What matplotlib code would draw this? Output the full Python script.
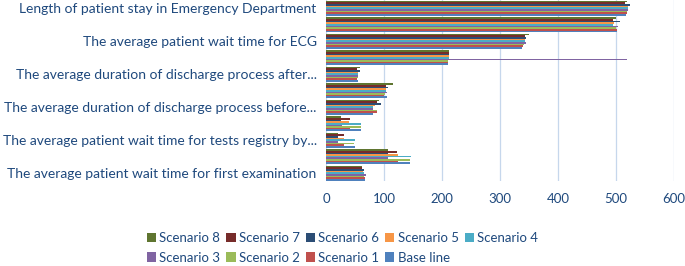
import numpy as np
import matplotlib
matplotlib.use("Agg")
import matplotlib.pyplot as plt

plt.rcParams['font.family'] = ['Lato', 'DejaVu Sans']

# Categories from bottom to top (only every other one has a visible label in the chart)
categories = [
    "The average patient wait time for first examination",
    "The average patient wait time for laboratory tests",
    "The average patient wait time for tests registry by...",
    "The average patient wait time for tests results",
    "The average duration of discharge process before...",
    "The average patient wait time for consultation",
    "The average duration of discharge process after...",
    "The average patient wait time for imaging",
    "The average patient wait time for ECG",
    "The average patient wait time for admission",
    "Length of patient stay in Emergency Department",
]

series_names = ["Base line", "Scenario 1", "Scenario 2", "Scenario 3", "Scenario 4",
                "Scenario 5", "Scenario 6", "Scenario 7", "Scenario 8"]

base_line = [67, 145, 49, 59, 80, 104, 55, 210, 338, 501, 517]
scenario_1 = [66, 123, 31, 40, 88, 100, 53, 209, 340, 501, 518]
scenario_2 = [65, 144, 48, 59, 88, 101, 54, 210, 341, 499, 518]
scenario_3 = [69, 107, 20, 26, 81, 105, 55, 519, 344, 504, 521]
scenario_4 = [64, 146, 49, 59, 81, 102, 55, 211, 342, 494, 520]
scenario_5 = [63, 123, 31, 39, 84, 102, 54, 211, 343, 497, 521]
scenario_6 = [64, 107, 20, 25, 94, 107, 58, 212, 345, 507, 524]
scenario_7 = [62, 122, 31, 40, 87, 103, 53, 212, 342, 494, 515]
scenario_8 = [62, 107, 20, 25, 91, 114, 58, 212, 349, 500, 518]

series = [base_line, scenario_1, scenario_2, scenario_3, scenario_4,
          scenario_5, scenario_6, scenario_7, scenario_8]

colors = ["#4F81BD", "#C0504D", "#9BBB59", "#8064A2", "#4BACC6",
          "#F79646", "#2C4D75", "#772C2A", "#5F7530"]

text_color = "#1F497D"

fig = plt.figure(figsize=(6.85, 2.66), dpi=100)
ax = fig.add_axes([0.4766, 0.318, 0.5074, 0.682])

y = np.arange(len(categories))
bar_h = 0.1
bars = []
for j, (vals, name, col) in enumerate(zip(series, series_names, colors)):
    b = ax.barh(y - 0.45 + (j + 0.5) * bar_h, vals, height=bar_h,
                color=col, label=name, zorder=3)
    bars.append(b)

ax.set_xlim(0, 600)
ax.set_ylim(-0.5, len(categories) - 0.5)
ax.set_xticks(range(0, 601, 100))
ax.set_yticks(y[::2])
ax.set_yticklabels(categories[::2])
ax.tick_params(axis='both', length=0, labelcolor=text_color)
ax.tick_params(axis='y', pad=7, labelsize=10)
ax.tick_params(axis='x', pad=8, labelsize=9.5)
ax.grid(axis='x', color='#C6D7EC', linewidth=0.9, zorder=0)
for s in ax.spines.values():
    s.set_visible(False)

# legend laid out row-wise: Scenario 8..4 on top, Scenario 3..Base line below
order = [8, 3, 7, 2, 6, 1, 5, 0, 4]
fig.legend([bars[k] for k in order], [series_names[k] for k in order],
           loc='center', bbox_to_anchor=(0.5, 0.068), ncol=5, frameon=False,
           fontsize=9.5, labelcolor=text_color, handlelength=0.7, handleheight=0.7,
           handletextpad=0.25, columnspacing=0.45, labelspacing=0.55,
           borderpad=0.1)

fig.savefig("out.png", dpi=100)
